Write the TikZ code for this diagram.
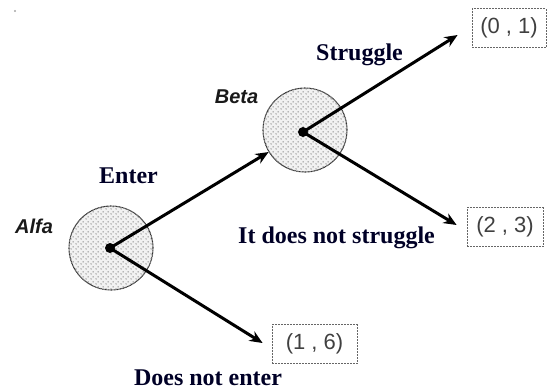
\documentclass[tikz,border=0pt]{standalone}
\usepackage{fontspec}
\setmainfont{Liberation Serif}
\setsansfont{Liberation Sans}
\usetikzlibrary{arrows.meta,patterns.meta}
\tikzdeclarepattern{
  name=stipple,
  type=uncolored,
  bounding box={(0,0) and (5pt,5pt)},
  tile size={(5pt,5pt)},
  code={
    \fill (1.25pt,1.25pt) circle (0.7pt);
    \fill (3.75pt,3.75pt) circle (0.7pt);
  }
}
\begin{document}
\begin{tikzpicture}[x=1pt,y=-1pt,
  lbl/.style={font=\fontsize{24}{26}\selectfont\bfseries, text=black!85!blue, anchor=base, inner sep=0pt},
  plyr/.style={font=\fontsize{20}{22}\selectfont\sffamily\bfseries\itshape, text=black!90, anchor=base, inner sep=0pt},
  payoff/.style={draw=black!60, dash pattern=on 2pt off 1pt, line width=0.8pt, minimum height=39pt,
                 font=\fontsize{22}{24}\selectfont\sffamily, text=black!75, inner sep=0pt},
  decision/.style={circle, minimum size=84pt, inner sep=0pt, draw=black!80, line width=1.1pt,
                   dash pattern=on 1pt off 0.5pt, preaction={fill=black!5}, pattern=stipple, pattern color=black!70},
  hub/.style={circle, fill=black, minimum size=10pt, inner sep=0pt},
  move/.style={line width=3pt, -{Stealth[length=13pt,width=11pt]}}
]
\useasboundingbox (0,0) rectangle (548,389);
\fill[black!35] (15,11) circle (1.2pt);

% decision nodes
\node[decision] (alfa) at (111,248) {};
\node[decision] (beta) at (305,130) {};
\node[hub] (ha) at (110,248) {};
\node[hub] (hb) at (303,132) {};

% payoffs
\node[payoff, minimum width=74pt] (b01) at (509,28) {(0 , 1)};
\node[payoff, minimum width=76pt] (b23) at (505,227) {(2 , 3)};
\node[payoff, minimum width=85pt] (b16) at (314.5,344) {(1 , 6)};

% moves
\draw[move] (ha.center) -- (beta);
\draw[move] (ha.center) -- ([shift={(-9,-1)}]b16.west);
\draw[move] (hb.center) -- ([shift={(-14,7)}]b01.west);
\draw[move] (hb.center) -- ([shift={(-10,-2)}]b23.west);

% labels
\node[plyr] (lalfa) at (34,233) {Alfa};
\node[plyr] (lbeta) at (236.5,103) {Beta};
\node[lbl] (lenter) at (128.5,183) {Enter};
\node[lbl] (lstr) at (359.5,60) {Struggle};
\node[lbl] (lnstr) at (336.5,243) {It does not struggle};
\node[lbl] (lnent) at (208,385) {Does not enter};
\end{tikzpicture}
\end{document}
